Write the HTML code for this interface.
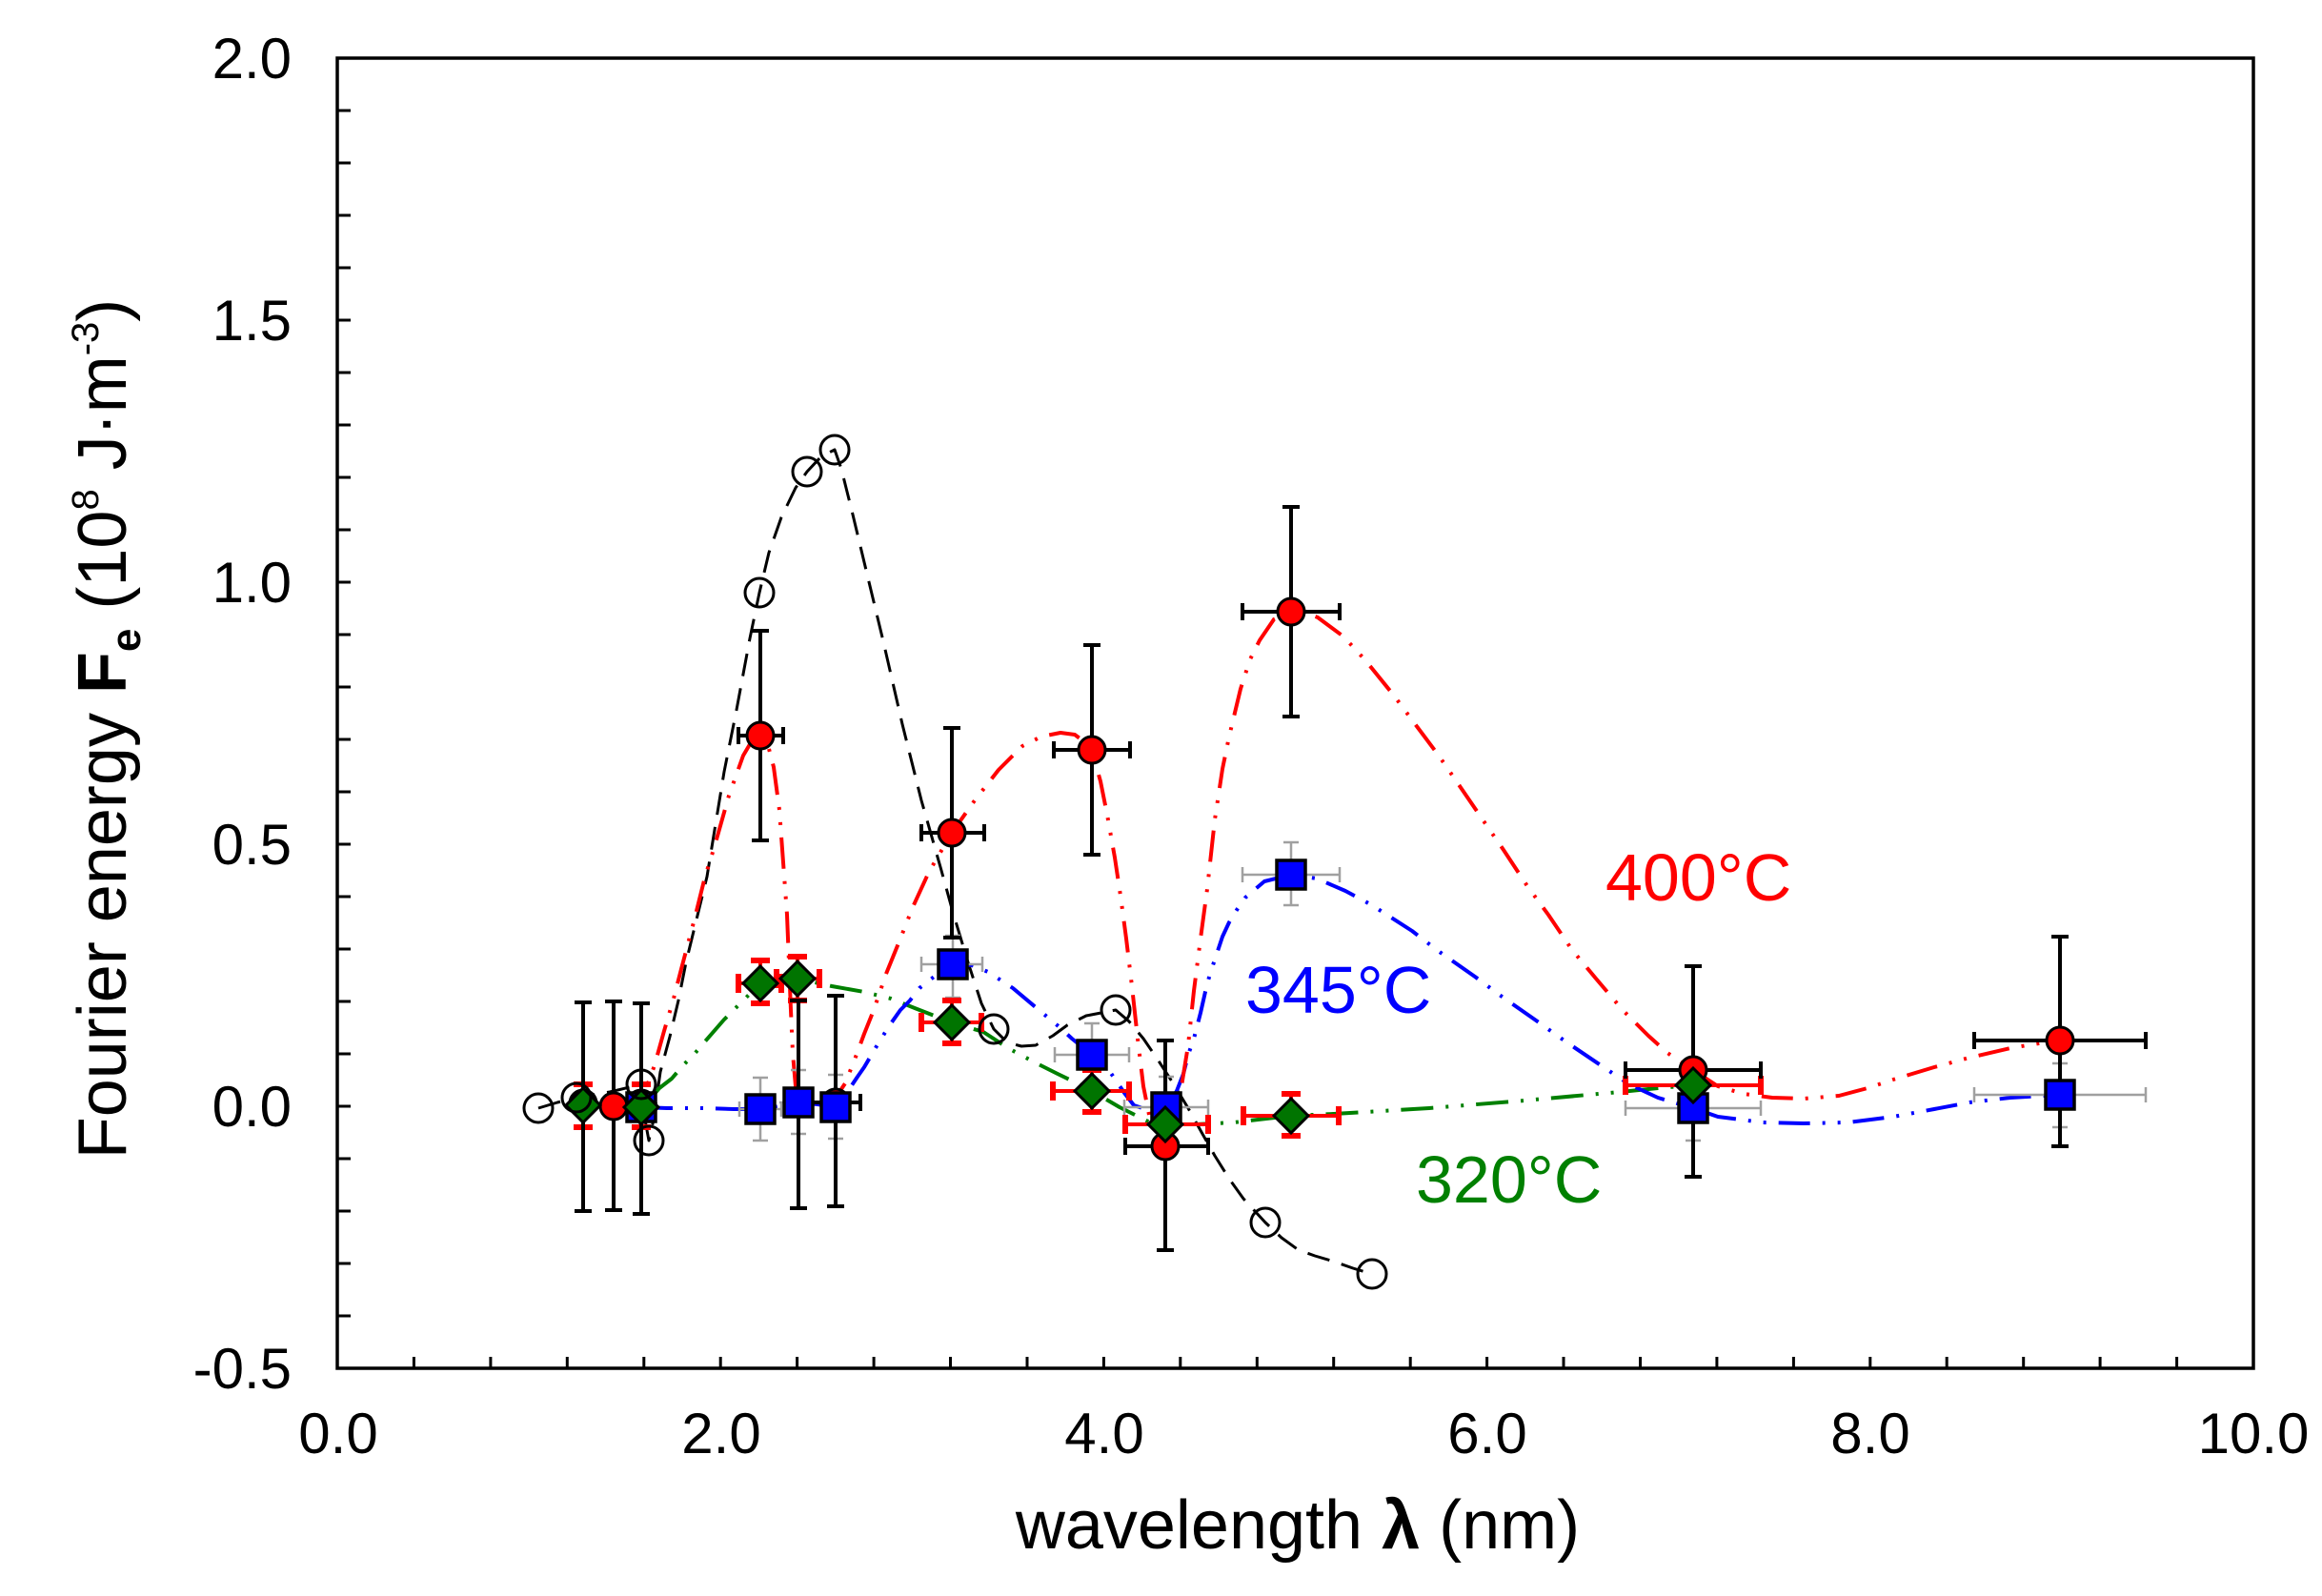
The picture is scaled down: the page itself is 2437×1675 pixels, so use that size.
<!DOCTYPE html>
<html>
<head>
<meta charset="utf-8">
<style>
  html,body{margin:0;padding:0;background:#fff;}
  svg{display:block;}
  text{font-family:"Liberation Sans", Arial, sans-serif;}
</style>
</head>
<body>
<svg width="2437" height="1675" viewBox="0 0 2437 1675" xmlns="http://www.w3.org/2000/svg">
<rect x="0" y="0" width="2437" height="1675" fill="#fff"/>

<!-- ticks -->
<g stroke="#000" stroke-width="3">
  <!-- y ticks every 0.1 (55px) -->
  <path d="M354 116h14M354 171h14M354 226h14M354 281h14M354 336h14M354 391h14M354 446h14M354 501h14M354 556h14M354 611h14M354 666h14M354 721h14M354 776h14M354 831h14M354 886h14M354 941h14M354 996h14M354 1051h14M354 1106h14M354 1161h14M354 1216h14M354 1271h14M354 1326h14M354 1381h14"/>
  <!-- x ticks every 0.4 (80.44px) -->
  <path d="M434.4 1436v-12M514.9 1436v-12M595.3 1436v-12M675.8 1436v-12M756.2 1436v-12M836.6 1436v-12M917.1 1436v-12M997.5 1436v-12M1078 1436v-12M1158.4 1436v-12M1238.8 1436v-12M1319.3 1436v-12M1399.7 1436v-12M1480.2 1436v-12M1560.6 1436v-12M1641 1436v-12M1721.5 1436v-12M1801.9 1436v-12M1882.4 1436v-12M1962.8 1436v-12M2043.2 1436v-12M2123.7 1436v-12M2204.1 1436v-12M2284.6 1436v-12"/>
</g>

<!-- curves -->
<g fill="none" stroke-linecap="butt" stroke-linejoin="round">
  <!-- black dashed -->
  <polyline stroke="#000" stroke-width="3" stroke-dasharray="24 13" points="565,1163 585,1157 605,1152 640,1146 665,1140 673,1140 676,1170 681,1197 686,1175 693,1125 703,1088 712,1050 720,1010 742,920 760,810 773,745 787,670 797,622 807,580 820,543 835,512 847,495 862,479 876,472 883,492 895,540 907,590 927,673 947,760 967,840 987,910 1000,957 1015,1007 1030,1053 1043,1080 1057,1094 1072,1098 1087,1097 1105,1087 1120,1076 1140,1066 1171,1060 1185,1072 1200,1090 1215,1112 1230,1135 1247,1163 1262,1190 1275,1213 1290,1237 1305,1258 1328,1283 1345,1299 1363,1312 1380,1318 1400,1324 1420,1331 1440,1337"/>
  <!-- green 320 -->
  <polyline stroke="#008000" stroke-width="4" stroke-dasharray="34 13 3 13 3 13" points="612,1160 640,1161 673,1162 685,1150 692,1142 705,1132 717,1118 728,1107 740,1093 760,1070 772,1058 785,1045 798,1032 818,1028 837,1027 873,1035 907,1041 935,1048 960,1058 983,1067 999,1073 1032,1083 1058,1100 1088,1116 1110,1127 1137,1140 1146,1145 1175,1162 1207,1178 1223,1180 1255,1180 1295,1178 1355,1171 1400,1169 1500,1163 1600,1155 1700,1146 1740,1142 1777,1139"/>
  <!-- blue 345 -->
  <polyline stroke="#0000ff" stroke-width="4" stroke-dasharray="33 13 3 13 3 13" points="673,1162 700,1163 737,1163 770,1164 798,1164 818,1161 838,1157 858,1159 877,1162 890,1145 900,1130 907,1120 920,1098 933,1077 945,1060 955,1050 965,1037 983,1023 1000,1012 1020,1013 1037,1020 1063,1037 1088,1058 1112,1078 1125,1090 1146,1107 1163,1122 1180,1147 1190,1160 1205,1165 1224,1162 1235,1145 1242,1127 1247,1107 1253,1090 1260,1063 1267,1032 1273,1013 1283,983 1290,968 1298,955 1307,942 1327,925 1355,918 1382,922 1412,935 1440,950 1482,977 1508,997 1548,1025 1575,1045 1615,1073 1643,1093 1680,1118 1710,1138 1740,1152 1777,1163 1803,1172 1850,1178 1893,1179 1940,1178 1987,1172 2030,1164 2067,1157 2110,1152 2162,1149"/>
  <!-- red 400 -->
  <polyline stroke="#ff0000" stroke-width="4" stroke-dasharray="33 13 3 13 3 13" points="644,1161 660,1158 672,1152 680,1137 687,1118 697,1082 707,1048 715,1017 728,968 740,920 750,888 765,835 780,793 790,776 798,771 806,782 812,805 818,850 822,905 826,960 828,1010 830,1060 832,1105 835,1140 840,1160 850,1168 862,1165 877,1152 887,1137 897,1112 907,1085 917,1060 930,1022 945,985 958,952 975,915 999,874 1023,840 1048,808 1073,783 1093,773 1113,769 1128,771 1140,780 1148,795 1155,820 1162,855 1170,900 1176,940 1182,985 1188,1035 1194,1090 1200,1140 1207,1175 1215,1195 1223,1203 1232,1180 1240,1140 1247,1097 1253,1040 1260,985 1267,933 1275,860 1283,807 1290,773 1302,723 1312,692 1322,672 1337,650 1355,642 1370,643 1383,648 1410,668 1433,693 1463,730 1483,757 1510,793 1532,825 1558,863 1578,892 1603,930 1625,960 1650,997 1675,1027 1703,1060 1730,1087 1750,1105 1777,1123 1803,1140 1830,1148 1860,1152 1893,1153 1930,1150 1960,1142 1987,1133 2030,1120 2067,1110 2110,1100 2140,1095 2162,1092"/>
</g>

<!-- gray error bars (345) -->
<g stroke="#a0a0a0" stroke-width="2.5" fill="none">
  <path d="M798 1131V1197M790 1131h16M790 1197h16M776 1164H820M776 1156v16M820 1156v16"/>
  <path d="M838 1123V1190M830 1123h16M830 1190h16M818 1157H858"/>
  <path d="M877 1128V1195M869 1128h16M869 1195h16"/>
  <path d="M1000 982V1047M992 982h16M992 1047h16M967 1012H1031M967 1004v16M1031 1004v16"/>
  <path d="M1146 1074V1140M1138 1074h16M1138 1140h16M1107 1107H1185M1107 1099v16M1185 1099v16"/>
  <path d="M1224 1130V1195M1216 1130h16M1216 1195h16M1180 1162H1268M1180 1154v16M1268 1154v16"/>
  <path d="M1355 884V950M1347 884h16M1347 950h16M1304 918H1406M1304 910v16M1406 910v16"/>
  <path d="M1777 1130V1197M1769 1130h16M1769 1197h16M1706 1163H1848M1706 1155v16M1848 1155v16"/>
  <path d="M2162 1116V1183M2154 1116h16M2154 1183h16M2072 1149H2252M2072 1141v16M2252 1141v16"/>
</g>

<!-- red error bars (320) -->
<g stroke="#ff0000" fill="none">
  <g stroke-width="4">
    <path d="M612 1138V1183M673 1138V1183M798 1008V1053M775 1032H820M837 1004V1050M815 1027H860M999 1050V1095M967 1073H1030M1146 1123V1167M1105 1145H1185M1223 1158V1202M1181 1180H1268M1355 1148V1192M1305 1171H1405M1777 1117V1161M1706 1139H1848"/>
  </g>
  <g stroke-width="6">
    <path d="M602 1138h20M602 1183h20M663 1138h20M663 1183h20"/>
    <path d="M788 1008h20M788 1053h20M775 1022v20M820 1022v20"/>
    <path d="M827 1004h20M827 1050h20M815 1017v20M860 1017v20"/>
    <path d="M989 1050h20M989 1095h20M967 1063v20M1030 1063v20"/>
    <path d="M1136 1123h20M1136 1167h20M1105 1135v20M1185 1135v20"/>
    <path d="M1213 1158h20M1213 1202h20M1181 1170v20M1268 1170v20"/>
    <path d="M1345 1148h20M1345 1192h20M1305 1161v20M1405 1161v20"/>
    <path d="M1767 1117h20M1767 1161h20M1706 1129v20M1848 1129v20"/>
  </g>
</g>

<!-- black error bars (400) -->
<g stroke="#000" stroke-width="4" fill="none">
  <path d="M612 1052V1271M603 1052h18M603 1271h18"/>
  <path d="M644 1051V1270M635 1051h18M635 1270h18"/>
  <path d="M673 1053V1274M664 1053h18M664 1274h18"/>
  <path d="M798 662V882M789 662h18M789 882h18M775 772H822M775 763v18M822 763v18"/>
  <path d="M838 1050V1268M829 1050h18M829 1268h18"/>
  <path d="M877 1045V1266M868 1045h18M868 1266h18M851 1157H903M903 1148v18"/>
  <path d="M999 764V984M990 764h18M990 984h18M967 874H1033M967 865v18M1033 865v18"/>
  <path d="M1146 677V897M1137 677h18M1137 897h18M1106 787H1186M1106 778v18M1186 778v18"/>
  <path d="M1223 1092V1312M1214 1092h18M1214 1312h18M1181 1203H1268M1181 1194v18M1268 1194v18"/>
  <path d="M1355 532V752M1346 532h18M1346 752h18M1304 642H1406M1304 633v18M1406 633v18"/>
  <path d="M1777 1014V1235M1768 1014h18M1768 1235h18M1706 1123H1848M1706 1114v18M1848 1114v18"/>
  <path d="M2162 983V1203M2153 983h18M2153 1203h18M2072 1092H2252M2072 1083v18M2252 1083v18"/>
</g>

<!-- red circles -->
<g fill="#ff0000" stroke="#000" stroke-width="3">
  <circle cx="612" cy="1158" r="14"/>
  <circle cx="644" cy="1161" r="14"/>
  <circle cx="673" cy="1158" r="14"/>
  <circle cx="798" cy="772" r="14"/>
  <circle cx="838" cy="1158" r="14"/>
  <circle cx="877" cy="1157" r="14"/>
  <circle cx="999" cy="874" r="14"/>
  <circle cx="1146" cy="787" r="14"/>
  <circle cx="1223" cy="1203" r="14"/>
  <circle cx="1355" cy="642" r="14"/>
  <circle cx="1777" cy="1123" r="14"/>
  <circle cx="2162" cy="1092" r="14"/>
</g>

<!-- blue squares -->
<g fill="#0000ff" stroke="#000" stroke-width="3.5">
  <rect x="658" y="1147" width="30" height="30"/>
  <rect x="783" y="1149" width="30" height="30"/>
  <rect x="823" y="1142" width="30" height="30"/>
  <rect x="862" y="1147" width="30" height="30"/>
  <rect x="985" y="997" width="30" height="30"/>
  <rect x="1131" y="1092" width="30" height="30"/>
  <rect x="1209" y="1147" width="30" height="30"/>
  <rect x="1340" y="903" width="30" height="30"/>
  <rect x="1762" y="1148" width="30" height="30"/>
  <rect x="2147" y="1134" width="30" height="30"/>
</g>

<!-- green diamonds -->
<g fill="#007400" stroke="#000" stroke-width="3">
  <path d="M612 1142l18 18-18 18-18-18z"/>
  <path d="M673 1144l18 18-18 18-18-18z"/>
  <path d="M798 1014l18 18-18 18-18-18z"/>
  <path d="M837 1009l18 18-18 18-18-18z"/>
  <path d="M999 1055l18 18-18 18-18-18z"/>
  <path d="M1146 1127l18 18-18 18-18-18z"/>
  <path d="M1223 1162l18 18-18 18-18-18z"/>
  <path d="M1355 1153l18 18-18 18-18-18z"/>
  <path d="M1777 1121l18 18-18 18-18-18z"/>
</g>

<!-- black open circles -->
<g fill="none" stroke="#000" stroke-width="3">
  <circle cx="565" cy="1163" r="15"/>
  <circle cx="605" cy="1152" r="15"/>
  <circle cx="673" cy="1138" r="15"/>
  <circle cx="681" cy="1197" r="15"/>
  <circle cx="797" cy="622" r="15"/>
  <circle cx="847" cy="495" r="15"/>
  <circle cx="876" cy="472" r="15"/>
  <circle cx="1043" cy="1080" r="15"/>
  <circle cx="1171" cy="1060" r="15"/>
  <circle cx="1328" cy="1283" r="15"/>
  <circle cx="1440" cy="1337" r="15"/>
</g>

<!-- frame -->
<rect x="354" y="61" width="2011" height="1375" fill="none" stroke="#000" stroke-width="3.5"/>

<!-- y tick labels -->
<g font-size="60" text-anchor="end" fill="#000">
  <text x="306" y="82">2.0</text>
  <text x="306" y="357">1.5</text>
  <text x="306" y="632">1.0</text>
  <text x="306" y="907">0.5</text>
  <text x="306" y="1182">0.0</text>
  <text x="306" y="1457">-0.5</text>
</g>
<!-- x tick labels -->
<g font-size="60" text-anchor="middle" fill="#000">
  <text x="355" y="1525">0.0</text>
  <text x="757" y="1525">2.0</text>
  <text x="1159" y="1525">4.0</text>
  <text x="1561" y="1525">6.0</text>
  <text x="1963" y="1525">8.0</text>
  <text x="2365" y="1525">10.0</text>
</g>

<!-- series labels -->
<text x="1685" y="945" font-size="70" fill="#ff0000">400°C</text>
<text x="1307" y="1063" font-size="70" fill="#0000ff">345°C</text>
<text x="1486" y="1262" font-size="70" fill="#008000">320°C</text>

<!-- axis titles -->
<text x="1362" y="1625" font-size="72" text-anchor="middle" fill="#000">wavelength <tspan font-weight="bold">λ</tspan> (nm)</text>

<text transform="translate(132,765) rotate(-90)" font-size="72" text-anchor="middle" fill="#000">Fourier energy <tspan font-weight="bold">F</tspan><tspan font-weight="bold" font-size="44" dy="15">e</tspan><tspan dy="-15"> (10</tspan><tspan font-size="40" dy="-29">8</tspan><tspan dy="29"> J·m</tspan><tspan font-size="40" dy="-29">-3</tspan><tspan dy="29">)</tspan></text>
</svg>
</body>
</html>
